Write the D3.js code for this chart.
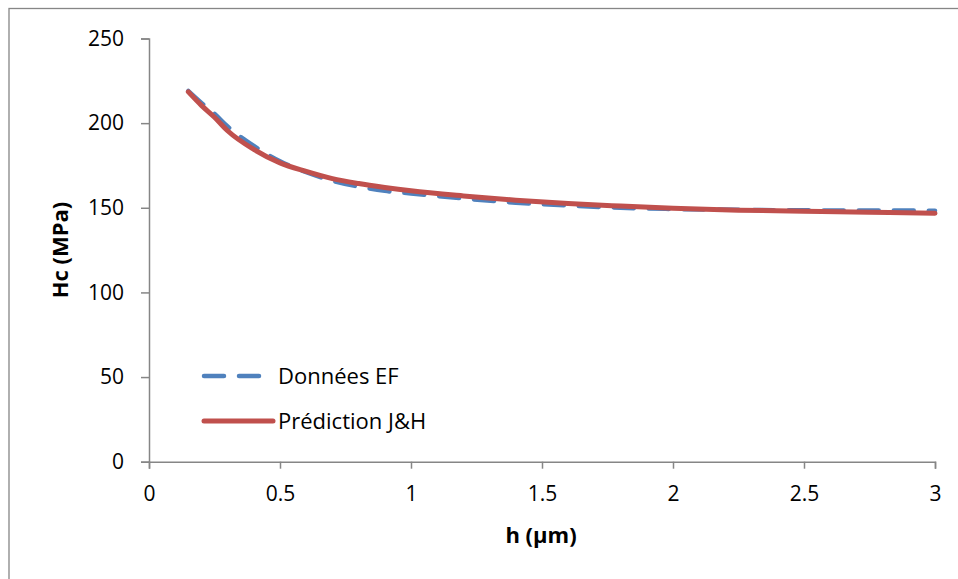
<!DOCTYPE html>
<html><head><meta charset="utf-8">
<script src="https://cdn.jsdelivr.net/npm/d3@7"></script>
<style>body{margin:0;background:#fff}svg{display:block}text{font-family:"Open Sans",sans-serif}</style>
</head><body><svg id="c" width="958" height="579"></svg>
<script>
const hValues = [0.15,0.2,0.25,0.3,0.4,0.5,0.6,0.7,0.8,0.9,1.0,1.2,1.4,1.6,1.8,2.0,2.25,2.5,2.75,3.0];
const donneesEF = [219,212,205.5,198,186.5,177.5,171,166,162.5,160,158.5,155.5,153,151.3,150,149.3,148.8,148.5,148.4,148.3];
const predictionJH = [218.5,210.5,203.5,195.5,184.5,176.5,171.5,167.2,164.3,162,160,157,154.5,152.5,151,149.7,148.6,147.9,147.3,146.8];
const xTicks = [0,0.5,1,1.5,2,2.5,3];
const yTicks = [0,50,100,150,200,250];
const seriesNames = ["Données EF","Prédiction J&H"];

const svg = d3.select("#c");
svg.append("rect").attr("x",9).attr("y",8.5).attr("width",1000).attr("height",1000)
  .attr("fill","none").attr("stroke","#868686").attr("stroke-width",1.3);

const x = d3.scaleLinear().domain([0,3]).range([149,935]);
const y = d3.scaleLinear().domain([0,250]).range([461.7,38.5]);

const axisColor="#868686";
const gx = svg.append("g").attr("transform","translate(0,461.7)")
  .call(d3.axisBottom(x).tickValues(xTicks).tickSize(7).tickFormat(d=>String(d)));
const gy = svg.append("g").attr("transform","translate(149,0)")
  .call(d3.axisLeft(y).tickValues(yTicks).tickSize(8).tickFormat(d=>String(d)));
[gx,gy].forEach(g=>{
  g.select(".domain").attr("stroke",axisColor).attr("stroke-width",1.5);
  g.selectAll(".tick line").attr("stroke",axisColor).attr("stroke-width",1.5);
  g.selectAll(".tick text").attr("fill","#000").style("font-size","21px").style("font-family","'Open Sans',sans-serif");
});
gx.selectAll(".tick text").attr("dy","0").attr("y",39);
gy.selectAll(".tick text").attr("x",-25);

const line = d3.line().x(d=>x(d[0])).y(d=>y(d[1])).curve(d3.curveMonotoneX);
const ef = hValues.map((h,i)=>[h,donneesEF[i]]);
const jh = hValues.map((h,i)=>[h,predictionJH[i]]);
svg.append("path").datum(ef).attr("d",line).attr("fill","none")
  .attr("stroke","#4F81BD").attr("stroke-width",4.5).attr("stroke-dasharray","20,15").attr("stroke-linecap","round");
svg.append("path").datum(jh).attr("d",line).attr("fill","none")
  .attr("stroke","#C0504D").attr("stroke-width",5).attr("stroke-linecap","round");

// legend
const lg = svg.append("g");
lg.append("line").attr("x1",204).attr("x2",266).attr("y1",376).attr("y2",376)
  .attr("stroke","#4F81BD").attr("stroke-width",4.5).attr("stroke-dasharray","20,15").attr("stroke-linecap","round");
lg.append("line").attr("x1",204).attr("x2",273).attr("y1",421).attr("y2",421)
  .attr("stroke","#C0504D").attr("stroke-width",5).attr("stroke-linecap","round");
lg.append("text").attr("x",278).attr("y",376).attr("dy","0.35em").style("font-size","22px").text(seriesNames[0]);
lg.append("text").attr("x",278).attr("y",421).attr("dy","0.35em").style("font-size","22px").text(seriesNames[1]);

svg.append("text").attr("x",541).attr("y",543).attr("text-anchor","middle")
  .style("font-size","22px").style("font-weight","bold").text("h (µm)");
svg.append("text").attr("transform","translate(68,250) rotate(-90)").attr("text-anchor","middle")
  .style("font-size","22px").style("font-weight","bold").text("Hc (MPa)");
</script></body></html>
